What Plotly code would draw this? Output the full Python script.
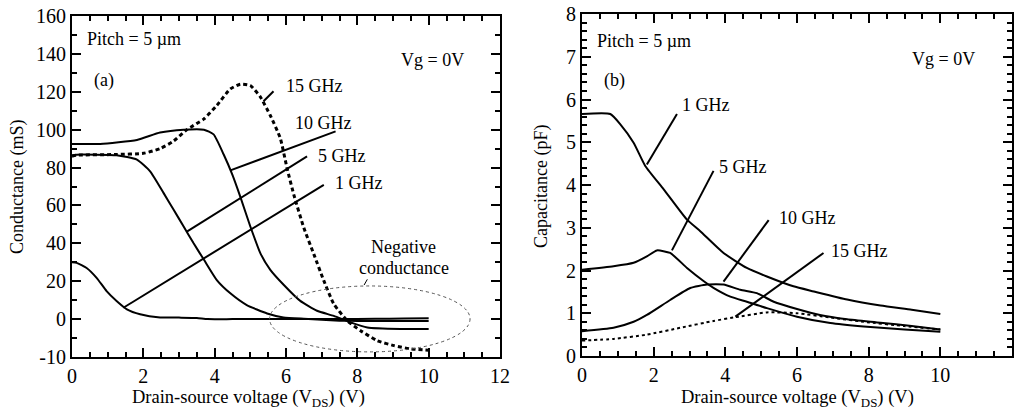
import plotly.graph_objects as go

# ---------------- Data: (a) conductance ----------------
g1_x = [0, 0.13, 0.41, 0.69, 0.97, 1.25, 1.54, 1.91, 2.47, 3.0, 3.5, 3.8, 4.5, 5.5, 6.5, 7.5, 8.5, 9.3, 10]
g1_y = [30, 29.7, 27, 21.8, 14.8, 9.6, 5.2, 2.6, 0.9, 0.8, 0.6, 0, 0, 0, 0, 0, 0.2, 0.3, 0.4]

g5_x = [0, 0.13, 1.25, 1.82, 2.19, 2.57, 2.85, 3.13, 3.41, 3.7, 4.06, 4.44, 4.9, 5.47, 5.93, 6.5, 7.0, 7.5, 8.0, 9.0, 10]
g5_y = [86.5, 86.8, 86.5, 84.2, 78.0, 66.5, 57.7, 48.9, 40.0, 31.3, 20.6, 13.6, 7.4, 3.0, 0.9, 0.2, -0.3, -0.8, -1.0, -1.0, -1.0]

g10_x = [0, 0.13, 0.79, 1.82, 2.47, 3.13, 3.7, 3.97, 4.25, 4.49, 4.72, 5.0, 5.28, 5.56, 5.94, 6.4, 6.87, 7.34, 7.81, 8.28, 9.21, 10]
g10_y = [92.5, 92.5, 92.5, 94.6, 98.5, 100, 100, 97.5, 87.0, 76.5, 64.5, 48.9, 34.8, 26.0, 18.0, 9.6, 4.4, 1.7, -1.7, -4.4, -5.2, -5.2]

g15_x = [0, 0.13, 1.25, 2.0, 2.47, 2.85, 3.22, 3.7, 4.06, 4.44, 4.72, 5.0, 5.28, 5.56, 5.84, 6.03, 6.22, 6.5, 6.78, 7.06, 7.34, 7.72, 8.09, 8.56, 9.03, 9.49, 10]
g15_y = [86, 86.5, 86.9, 87.5, 90, 94, 100, 105.7, 112.8, 121.5, 124, 123.3, 117.3, 107.5, 95.5, 79.6, 65.6, 48.2, 34.3, 20.3, 8.0, -0.9, -6.1, -11.4, -14.0, -15.7, -16.4]

# y-axis tick labels of panel (a) as printed in the figure
a_tickvals = [-20, 0, 20, 40, 60, 80, 100, 120, 140, 160]
a_ticktext = ["-10", "0", "20", "40", "60", "80", "100", "120", "140", "160"]

# ---------------- Data: (b) capacitance ----------------
c1_x = [0, 0.79, 1.07, 1.44, 1.77, 2.28, 2.93, 3.3, 3.95, 4.6, 5.16, 5.9, 6.47, 7.4, 8.33, 9.2, 10]
c1_y = [5.66, 5.66, 5.42, 4.99, 4.44, 3.90, 3.19, 2.92, 2.41, 2.06, 1.86, 1.63, 1.51, 1.32, 1.18, 1.08, 0.98]

c5_x = [0, 0.88, 1.44, 1.81, 2.09, 2.46, 2.93, 3.4, 3.68, 4.14, 4.6, 5.16, 6.0, 6.93, 7.86, 9.0, 10]
c5_y = [2.02, 2.10, 2.18, 2.33, 2.47, 2.41, 2.06, 1.75, 1.59, 1.39, 1.27, 1.12, 0.92, 0.77, 0.69, 0.62, 0.57]

c10_x = [0, 0.88, 1.44, 1.81, 2.46, 3.02, 3.49, 3.95, 4.42, 4.88, 5.35, 6.0, 6.64, 7.4, 8.33, 9.2, 10]
c10_y = [0.58, 0.66, 0.80, 0.96, 1.31, 1.59, 1.67, 1.67, 1.55, 1.47, 1.27, 1.10, 0.96, 0.86, 0.78, 0.70, 0.62]

c15_x = [0, 0.88, 1.81, 2.74, 3.67, 4.23, 5.16, 6.0, 6.93, 7.86, 9.0, 10]
c15_y = [0.36, 0.40, 0.50, 0.66, 0.82, 0.90, 1.02, 1.00, 0.90, 0.80, 0.70, 0.62]

# leader lines: [x0, y0, x1, y1]
a_leaders = {
    "1 GHz": [1.44, 6.0, 7.06, 70.9],
    "5 GHz": [3.22, 46.2, 6.59, 85.9],
    "10 GHz": [4.44, 78.5, 7.39, 99.1],
    "15 GHz": [5.37, 115.0, 5.65, 120.3],
    "neg": [8.19, 18.0, 8.28, 21.0],
}
a_labels = {"1 GHz": (7.33, 72), "5 GHz": (6.83, 86), "10 GHz": (6.2, 103.5), "15 GHz": (5.94, 123)}

b_leaders = {
    "1 GHz": [1.81, 4.48, 2.65, 5.66],
    "5 GHz": [2.51, 2.47, 3.67, 4.33],
    "10 GHz": [3.95, 1.74, 5.21, 3.18],
    "15 GHz": [4.28, 0.92, 6.74, 2.41],
}
b_labels = {"1 GHz": (2.74, 5.87), "5 GHz": (3.77, 4.41), "10 GHz": (5.44, 3.23), "15 GHz": (6.88, 2.45)}

ellipse = [5.54, -17.3, 11.16, 17.5]  # x0, y0, x1, y1

FONT = "Liberation Serif"
W, H = 1018, 414

fig = go.Figure()

SM = 0.5
line_solid = dict(color="black", width=2, shape="spline", smoothing=SM)
for xs, ys in [(g1_x, g1_y), (g5_x, g5_y), (g10_x, g10_y)]:
    fig.add_trace(go.Scatter(x=xs, y=ys, mode="lines", line=line_solid, xaxis="x", yaxis="y", showlegend=False))
fig.add_trace(go.Scatter(x=g15_x, y=g15_y, mode="lines",
                         line=dict(color="black", width=3, dash="4px,3px", shape="spline", smoothing=SM),
                         xaxis="x", yaxis="y", showlegend=False))

for xs, ys in [(c1_x, c1_y), (c5_x, c5_y), (c10_x, c10_y)]:
    fig.add_trace(go.Scatter(x=xs, y=ys, mode="lines", line=line_solid, xaxis="x2", yaxis="y2", showlegend=False))
fig.add_trace(go.Scatter(x=c15_x, y=c15_y, mode="lines",
                         line=dict(color="black", width=2, dash="3px,3px", shape="spline", smoothing=SM),
                         xaxis="x2", yaxis="y2", showlegend=False))

shapes = []
for k, (x0, y0, x1, y1) in a_leaders.items():
    shapes.append(dict(type="line", xref="x", yref="y", x0=x0, y0=y0, x1=x1, y1=y1,
                       line=dict(color="black", width=2 if k != "neg" else 1)))
for k, (x0, y0, x1, y1) in b_leaders.items():
    shapes.append(dict(type="line", xref="x2", yref="y2", x0=x0, y0=y0, x1=x1, y1=y1,
                       line=dict(color="black", width=2)))
shapes.append(dict(type="circle", xref="x", yref="y", x0=ellipse[0], y0=ellipse[1], x1=ellipse[2], y1=ellipse[3],
                   line=dict(color="#555555", width=1, dash="dot")))

ann = []
tf = dict(family=FONT, size=18, color="black")
for k, (x, y) in a_labels.items():
    ann.append(dict(x=x, y=y, xref="x", yref="y", text=k, showarrow=False, xanchor="left", yanchor="middle", font=tf))
for k, (x, y) in b_labels.items():
    ann.append(dict(x=x, y=y, xref="x2", yref="y2", text=k, showarrow=False, xanchor="left", yanchor="middle", font=tf))
ann += [
    dict(x=0.37, y=148, xref="x", yref="y", text="Pitch = 5 µm", showarrow=False, xanchor="left", yanchor="middle", font=tf),
    dict(x=9.17, y=137, xref="x", yref="y", text="Vg = 0V", showarrow=False, xanchor="left", yanchor="middle", font=tf),
    dict(x=0.55, y=126, xref="x", yref="y", text="(a)", showarrow=False, xanchor="left", yanchor="middle", font=tf),
    dict(x=9.3, y=38, xref="x", yref="y", text="Negative", showarrow=False, xanchor="center", yanchor="middle", font=tf),
    dict(x=9.3, y=27, xref="x", yref="y", text="conductance", showarrow=False, xanchor="center", yanchor="middle", font=tf),
    dict(x=0.37, y=7.38, xref="x2", yref="y2", text="Pitch = 5 µm", showarrow=False, xanchor="left", yanchor="middle", font=tf),
    dict(x=9.16, y=6.95, xref="x2", yref="y2", text="Vg = 0V", showarrow=False, xanchor="left", yanchor="middle", font=tf),
    dict(x=0.56, y=6.44, xref="x2", yref="y2", text="(b)", showarrow=False, xanchor="left", yanchor="middle", font=tf),
    dict(x=17 / W, y=1 - 187 / H, xref="paper", yref="paper", text="Conductance (mS)", textangle=-90,
         showarrow=False, xanchor="center", yanchor="middle", font=tf),
    dict(x=541 / W, y=1 - 187 / H, xref="paper", yref="paper", text="Capacitance (pF)", textangle=-90,
         showarrow=False, xanchor="center", yanchor="middle", font=tf),
    dict(x=248 / W, y=1 - 398 / H, xref="paper", yref="paper", text="Drain-source voltage (V<sub>DS</sub>) (V)",
         showarrow=False, xanchor="center", yanchor="middle", font=dict(tf, size=18.5)),
    dict(x=797 / W, y=1 - 398 / H, xref="paper", yref="paper", text="Drain-source voltage (V<sub>DS</sub>) (V)",
         showarrow=False, xanchor="center", yanchor="middle", font=dict(tf, size=18.5)),
]

tickfont = dict(family=FONT, size=20, color="black")
common = dict(showgrid=False, zeroline=False, showline=True, linecolor="black", linewidth=2, mirror="allticks",
              ticks="inside", ticklen=9, tickwidth=2, tickcolor="black", tickfont=tickfont, automargin=False)
xcommon = dict(common, range=[0, 12], dtick=2, tick0=0,
               minor=dict(ticks="inside", dtick=0.5, ticklen=5, tickwidth=1.5, tickcolor="black"))

y_dom = [1 - 357 / H, 1 - 16 / H]
fig.update_layout(
    width=W, height=H, margin=dict(l=0, r=0, t=0, b=0),
    paper_bgcolor="white", plot_bgcolor="white",
    xaxis=dict(xcommon, domain=[72 / W, 500 / W], anchor="y"),
    yaxis=dict(common, domain=y_dom, range=[-20, 160], tickvals=a_tickvals, ticktext=a_ticktext, anchor="x",
               minor=dict(ticks="inside", dtick=10, tick0=0, ticklen=5, tickwidth=1.5, tickcolor="black")),
    xaxis2=dict(xcommon, domain=[582 / W, 1012 / W], anchor="y2"),
    yaxis2=dict(common, domain=[1 - 356 / H, 1 - 14 / H], range=[0, 8], dtick=1, anchor="x2",
                minor=dict(ticks="inside", dtick=0.2, ticklen=5, tickwidth=1.5, tickcolor="black")),
    shapes=shapes, annotations=ann, showlegend=False,
)

fig.write_html("out.html")
